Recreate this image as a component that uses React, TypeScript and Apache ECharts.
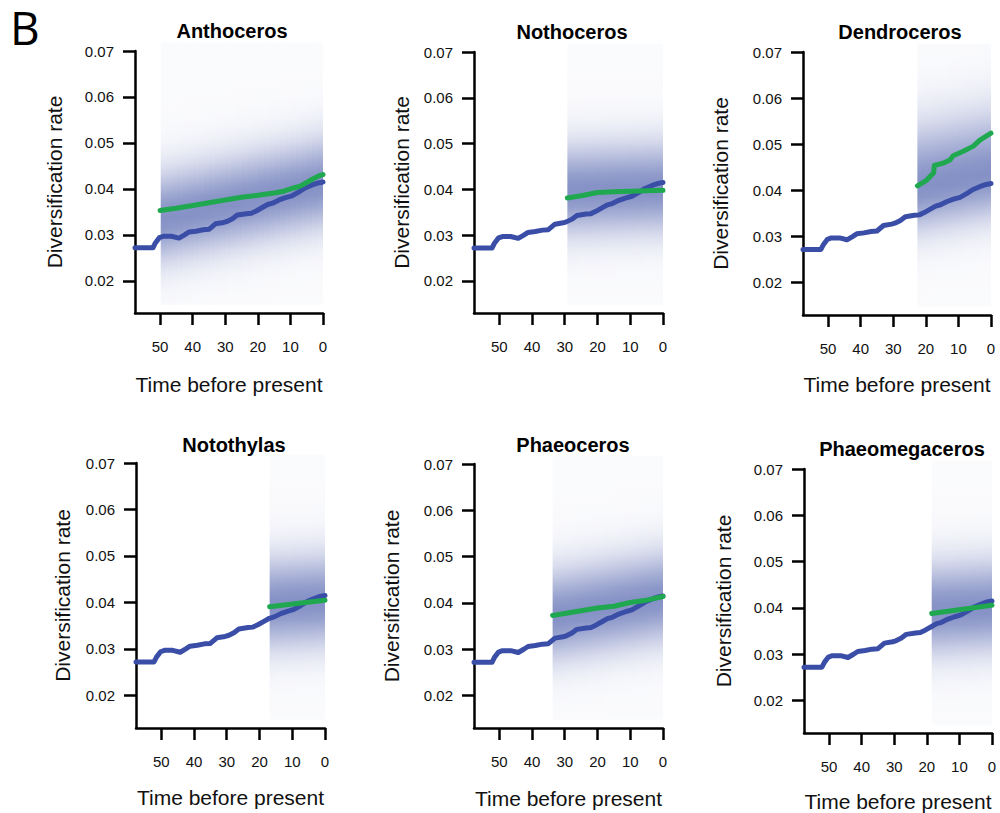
import React, { useEffect, useRef } from 'react';
import * as echarts from 'echarts';

// ---------- data ----------
const panelNames = ['Anthoceros', 'Nothoceros', 'Dendroceros', 'Notothylas', 'Phaeoceros', 'Phaeomegaceros'];
const xTickValues = [0, 10, 20, 30, 40, 50];
const yTickValues = [0.02, 0.03, 0.04, 0.05, 0.06, 0.07];
const xMaxTime = 57.7;

// background (all hornworts) rate, shared by every panel
const blueTime = [57.7, 52.2, 51.4, 50.2, 49, 46.5, 44.2, 42.5, 41.2, 39, 36.8, 35, 33, 30.5, 29.5, 27.8, 26.3, 23.5, 22, 20.5, 18.5, 17, 15.5, 13.5, 11.5, 9.5, 7.5, 5.5, 3.5, 1.5, 0];
const blueRate = [0.0272, 0.0272, 0.0283, 0.0294, 0.0297, 0.0297, 0.0293, 0.03, 0.0306, 0.0308, 0.0311, 0.0312, 0.0324, 0.0327, 0.0329, 0.0335, 0.0343, 0.0346, 0.0347, 0.0352, 0.036, 0.0366, 0.0369, 0.0376, 0.0381, 0.0385, 0.0393, 0.0402, 0.0408, 0.0413, 0.0415];

// clade-specific rates
const greenAnthocerosTime = [50, 45, 40, 35, 30, 25, 20, 15, 12, 9, 7, 5, 3, 1, 0];
const greenAnthocerosRate = [0.0353, 0.0358, 0.0364, 0.037, 0.0376, 0.0382, 0.0386, 0.0391, 0.0395, 0.0402, 0.0406, 0.0414, 0.0422, 0.0429, 0.0431];
const greenNothocerosTime = [29.2, 25, 20, 15, 10, 5, 0];
const greenNothocerosRate = [0.0381, 0.0386, 0.0393, 0.0395, 0.0396, 0.0397, 0.0398];
const greenDendrocerosTime = [22.6, 19.8, 18.2, 17.6, 17.4, 14.7, 12.6, 11.6, 8.5, 5.4, 3.4, 0];
const greenDendrocerosRate = [0.041, 0.0422, 0.0434, 0.0438, 0.0454, 0.0459, 0.0466, 0.0475, 0.0485, 0.0496, 0.0509, 0.0524];
const greenNotothylasTime = [16.9, 8.6, 0];
const greenNotothylasRate = [0.0391, 0.0398, 0.0405];
const greenPhaeocerosTime = [33.7, 25, 20, 15, 10, 5, 0];
const greenPhaeocerosRate = [0.0373, 0.0383, 0.0389, 0.0393, 0.0401, 0.0406, 0.0414];
const greenPhaeomegacerosTime = [18.5, 9, 0];
const greenPhaeomegacerosRate = [0.0388, 0.0397, 0.0406];

// shaded density band: [crown age, centre at left, centre at right, spread up, spread down]
const shadeAnthoceros = [49.8, 0.0335, 0.041, 0.0068, 0.0064];
const shadeNothoceros = [29.2, 0.0395, 0.0402, 0.0068, 0.0064];
const shadeDendroceros = [22.6, 0.0405, 0.0435, 0.009, 0.0064];
const shadeNotothylas = [16.9, 0.0395, 0.0402, 0.0068, 0.0064];
const shadePhaeoceros = [33.7, 0.037, 0.041, 0.0068, 0.0064];
const shadePhaeomegaceros = [18.5, 0.0395, 0.0402, 0.0068, 0.0064];

const greenTimes = [greenAnthocerosTime, greenNothocerosTime, greenDendrocerosTime, greenNotothylasTime, greenPhaeocerosTime, greenPhaeomegacerosTime];
const greenRates = [greenAnthocerosRate, greenNothocerosRate, greenDendrocerosRate, greenNotothylasRate, greenPhaeocerosRate, greenPhaeomegacerosRate];
const shades = [shadeAnthoceros, shadeNothoceros, shadeDendroceros, shadeNotothylas, shadePhaeoceros, shadePhaeomegaceros];

// ---------- layout / style ----------
const layout = [
  { left: 135, top: 51, right: 323, bottom: 313, tx: 232, ty: 31, yGap: 70, xGap: 61, xName: true },
  { left: 474, top: 52, right: 663, bottom: 313, tx: 572, ty: 32, yGap: 62, xGap: 61, xName: false },
  { left: 803, top: 52, right: 991, bottom: 315, tx: 900, ty: 32, yGap: 72, xGap: 59, xName: true },
  { left: 136, top: 463, right: 325, bottom: 728, tx: 234, ty: 445, yGap: 63, xGap: 59, xName: true },
  { left: 474, top: 464, right: 663, bottom: 728, tx: 573, ty: 445, yGap: 72, xGap: 60, xName: true },
  { left: 804, top: 469, right: 992, bottom: 733, tx: 902, ty: 449, yGap: 70, xGap: 58, xName: true },
];

const FONT = 'Liberation Sans, Arial, Helvetica, sans-serif';
const BLUE = '#3a4ea7';
const GREEN = '#1fa84f';
const SHADE_TOP = 0.0718;
const SHADE_BOTTOM = 0.0148;
const Y_MIN = 0.013;
const Y_MAX = 0.07;

function mixColor(k: number) {
  const dark = [92, 108, 178];
  const r = Math.round(255 - (255 - dark[0]) * k);
  const g = Math.round(255 - (255 - dark[1]) * k);
  const b = Math.round(255 - (255 - dark[2]) * k);
  return `rgb(${r},${g},${b})`;
}

function renderShade(params: any, api: any) {
  const t0 = api.value(0);
  const cL = api.value(1);
  const cR = api.value(2);
  const su = api.value(3);
  const sd = api.value(4);
  const pL = api.coord([t0, SHADE_TOP]);
  const pR = api.coord([0, SHADE_BOTTOM]);
  const N = 30;
  const children: any[] = [];
  for (let i = 0; i < N; i++) {
    const x0 = pL[0] + ((pR[0] - pL[0]) * i) / N;
    const x1 = pL[0] + ((pR[0] - pL[0]) * (i + 1)) / N;
    const c = cL + ((cR - cL) * (i + 0.5)) / N;
    const stops: any[] = [];
    const S = 24;
    for (let s = 0; s <= S; s++) {
      const v = SHADE_TOP - ((SHADE_TOP - SHADE_BOTTOM) * s) / S;
      const d = v - c;
      const sig = d > 0 ? su : sd;
      const k = 0.03 + 0.72 * Math.exp(-(d * d) / (2 * sig * sig));
      stops.push({ offset: s / S, color: mixColor(k) });
    }
    children.push({
      type: 'rect',
      shape: { x: x0, y: pL[1], width: x1 - x0 + (i < N - 1 ? 1 : 0), height: pR[1] - pL[1] },
      style: { fill: new echarts.graphic.LinearGradient(0, 0, 0, 1, stops) },
    });
  }
  return { type: 'group', children };
}

export default function App() {
  const ref = useRef<HTMLDivElement>(null);
  useEffect(() => {
    if (!ref.current) return;
    const chart = echarts.init(ref.current, undefined, { renderer: 'svg' });

    const grids = layout.map((l) => ({
      left: l.left,
      top: l.top,
      width: l.right - l.left,
      height: l.bottom - l.top,
      containLabel: false,
    }));

    const axisLineStyle = { color: '#000', width: 2.5 };

    const xAxes = layout.map((l, i) => ({
      type: 'value',
      gridIndex: i,
      inverse: true,
      min: 0,
      max: xMaxTime,
      axisLine: { show: true, onZero: false, lineStyle: axisLineStyle },
      axisTick: { show: true, length: 12, lineStyle: axisLineStyle, customValues: xTickValues },
      axisLabel: {
        customValues: xTickValues,
        margin: 26,
        fontSize: 15,
        fontFamily: FONT,
        color: '#111',
      },
      splitLine: { show: false },
      name: l.xName ? 'Time before present' : '',
      nameLocation: 'middle',
      nameGap: l.xGap,
      nameTextStyle: { fontSize: 21, fontFamily: FONT, color: '#111' },
    }));

    const yAxes = layout.map((l, i) => ({
      type: 'value',
      gridIndex: i,
      min: Y_MIN,
      max: Y_MAX,
      axisLine: { show: true, onZero: false, lineStyle: axisLineStyle },
      axisTick: { show: true, length: 12, lineStyle: axisLineStyle, customValues: yTickValues },
      axisLabel: {
        customValues: yTickValues,
        margin: 21,
        fontSize: 15,
        fontFamily: FONT,
        color: '#111',
        formatter: (v: number) => v.toFixed(2),
      },
      splitLine: { show: false },
      name: 'Diversification rate',
      nameLocation: 'middle',
      nameRotate: 90,
      nameGap: l.yGap,
      nameTextStyle: { fontSize: 21, fontFamily: FONT, color: '#111' },
    }));

    const series: any[] = [];
    layout.forEach((l, i) => {
      series.push({
        type: 'custom',
        name: panelNames[i] + ' density',
        xAxisIndex: i,
        yAxisIndex: i,
        clip: false,
        silent: true,
        z: 1,
        renderItem: renderShade,
        data: [shades[i]],
      });
      series.push({
        type: 'line',
        name: 'background',
        xAxisIndex: i,
        yAxisIndex: i,
        clip: false,
        showSymbol: false,
        symbol: 'none',
        z: 3,
        lineStyle: { color: BLUE, width: 5, cap: 'round', join: 'round' },
        data: blueTime.map((t, j) => [t, blueRate[j]]),
      });
      series.push({
        type: 'line',
        name: panelNames[i],
        xAxisIndex: i,
        yAxisIndex: i,
        clip: false,
        showSymbol: false,
        symbol: 'none',
        z: 4,
        lineStyle: { color: GREEN, width: 5, cap: 'round', join: 'round' },
        data: greenTimes[i].map((t, j) => [t, greenRates[i][j]]),
      });
    });

    const graphics: any[] = layout.map((l, i) => ({
      type: 'text',
      x: l.tx,
      y: l.ty,
      style: {
        text: panelNames[i],
        fontSize: 20,
        fontWeight: 'bold',
        fontFamily: FONT,
        fill: '#000',
        align: 'center',
        verticalAlign: 'middle',
      },
    }));
    graphics.push({
      type: 'text',
      x: 10,
      y: 4,
      style: {
        text: 'B',
        fontSize: 46,
        lineHeight: 46,
        fontFamily: 'Open Sans, Lato, sans-serif',
        fill: '#000',
        align: 'left',
        verticalAlign: 'top',
      },
    });

    chart.setOption({
      animation: false,
      backgroundColor: '#fff',
      grid: grids,
      xAxis: xAxes,
      yAxis: yAxes,
      series,
      graphic: graphics,
    });

    return () => chart.dispose();
  }, []);

  return (
    <div
      ref={ref}
      style={{ position: 'absolute', left: 0, top: 0, width: 1000, height: 813, background: '#fff' }}
    />
  );
}
